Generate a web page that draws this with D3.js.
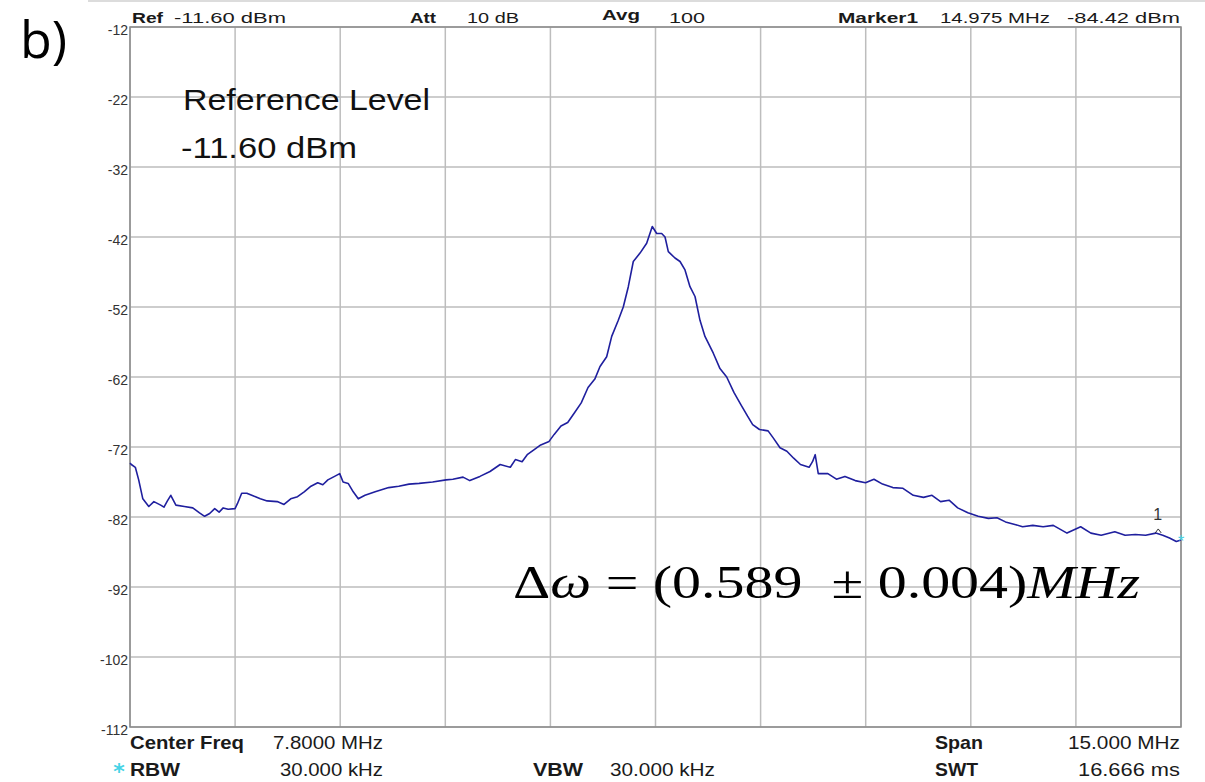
<!DOCTYPE html>
<html>
<head>
<meta charset="utf-8">
<script src="https://cdn.jsdelivr.net/npm/d3@7"></script>
<style>
  html, body { margin: 0; padding: 0; background: #fff; }
  svg { display: block; }
</style>
</head>
<body>
<svg id="chart" width="1205" height="782"></svg>
<script>
// ---------- data ----------
const freqMHz = [0.300,0.319,0.376,0.424,0.483,0.568,0.641,0.738,0.785,0.834,0.882,0.955,1.075,1.196,1.292,1.365,1.437,1.509,1.572,1.630,1.701,1.799,1.833,1.894,1.967,2.064,2.160,2.257,2.401,2.498,2.594,2.691,2.786,2.883,2.979,3.052,3.124,3.220,3.293,3.341,3.414,3.486,3.558,3.654,3.799,3.992,4.136,4.282,4.426,4.619,4.811,4.908,5.053,5.150,5.294,5.438,5.583,5.728,5.800,5.896,5.969,6.064,6.162,6.281,6.354,6.451,6.547,6.644,6.740,6.837,6.934,7.008,7.103,7.175,7.269,7.340,7.412,7.483,7.579,7.674,7.754,7.817,7.888,7.936,7.983,8.078,8.150,8.221,8.292,8.364,8.435,8.506,8.625,8.720,8.816,8.919,9.016,9.114,9.187,9.284,9.407,9.480,9.577,9.675,9.772,9.869,9.992,10.041,10.079,10.123,10.260,10.382,10.504,10.650,10.797,10.918,11.040,11.187,11.332,11.479,11.625,11.746,11.869,11.990,12.113,12.258,12.405,12.551,12.674,12.795,12.942,13.039,13.185,13.332,13.477,13.673,13.868,14.014,14.161,14.355,14.502,14.648,14.795,14.940,15.039,15.136,15.233,15.300];
const levelDbm = [-74.3,-74.5,-74.9,-76.7,-79.4,-80.5,-79.8,-80.3,-80.6,-79.7,-78.9,-80.3,-80.5,-80.7,-81.4,-81.9,-81.5,-80.8,-81.3,-80.7,-80.9,-80.8,-80.1,-78.6,-78.6,-79.0,-79.4,-79.7,-79.8,-80.2,-79.4,-79.1,-78.4,-77.6,-77.1,-77.4,-76.7,-76.2,-75.8,-77.0,-77.2,-78.4,-79.4,-78.9,-78.4,-77.8,-77.6,-77.3,-77.2,-77.0,-76.7,-76.6,-76.3,-76.8,-76.2,-75.5,-74.5,-74.9,-73.8,-74.1,-73.1,-72.4,-71.7,-71.2,-70.2,-69.0,-68.5,-67.1,-65.7,-63.5,-62.3,-60.5,-59.1,-56.2,-53.9,-52.0,-49.1,-45.5,-44.3,-42.9,-40.5,-41.5,-41.5,-42.0,-44.1,-45.0,-45.5,-46.7,-49.1,-50.5,-53.9,-56.2,-58.6,-60.8,-62.0,-64.2,-65.9,-67.6,-68.8,-69.5,-69.7,-70.7,-72.1,-72.6,-73.6,-74.5,-74.9,-74.1,-73.1,-75.8,-75.8,-76.6,-76.2,-76.8,-77.1,-76.6,-77.3,-77.8,-77.9,-78.9,-79.2,-78.9,-79.8,-79.6,-80.7,-81.4,-81.9,-82.2,-82.1,-82.7,-83.1,-83.4,-83.2,-83.4,-83.2,-84.3,-83.4,-84.3,-84.6,-84.1,-84.6,-84.5,-84.6,-84.3,-84.6,-85.0,-85.5,-85.3];
const yTicks = [-12,-22,-32,-42,-52,-62,-72,-82,-92,-102,-112];
const xGridMHz = [0.3,1.8,3.3,4.8,6.3,7.8,9.3,10.8,12.3,13.8,15.3];
const markerFreq = 14.975;
const markerLevel = -84.42;

// ---------- setup ----------
const svg = d3.select("#chart");
const x = d3.scaleLinear().domain([0.3, 15.3]).range([130, 1181]);
const y = d3.scaleLinear().domain([-112, -12]).range([727, 27]);
const SANS = "'Liberation Sans', Arial, sans-serif";

// faint top edge line
svg.append("line").attr("x1", 88).attr("x2", 1205).attr("y1", 1).attr("y2", 1)
  .attr("stroke", "#d0d0d0").attr("stroke-width", 1.5);

// grid
svg.append("g").selectAll("line").data(xGridMHz).join("line")
  .attr("x1", d => x(d)).attr("x2", d => x(d)).attr("y1", y(-12)).attr("y2", y(-112))
  .attr("stroke", "#bdbdbd").attr("stroke-width", 1.5);
svg.append("g").selectAll("line").data(yTicks).join("line")
  .attr("x1", x(0.3)).attr("x2", x(15.3)).attr("y1", d => y(d)).attr("y2", d => y(d))
  .attr("stroke", "#bdbdbd").attr("stroke-width", 1.5);
// frame
svg.append("rect").attr("x", x(0.3)).attr("y", y(-12))
  .attr("width", x(15.3) - x(0.3)).attr("height", y(-112) - y(-12))
  .attr("fill", "none").attr("stroke", "#8a8a8a").attr("stroke-width", 1.5);

// y axis labels
const yAxis = d3.axisLeft(y).tickValues(yTicks).tickSize(0).tickPadding(2).tickFormat(d => d);
const ya = svg.append("g").attr("transform", `translate(${x(0.3)},0)`).call(yAxis);
ya.select(".domain").remove();
ya.selectAll("text").attr("font-family", SANS).attr("font-size", 14).attr("fill", "#333").attr("dy", "0.5em");

// trace
const pts = freqMHz.map((f, i) => [f, levelDbm[i]]);
svg.append("path").datum(pts)
  .attr("d", d3.line().x(d => x(d[0])).y(d => y(d[1])))
  .attr("fill", "none").attr("stroke", "#1f1f9e").attr("stroke-width", 1.6)
  .attr("stroke-linejoin", "round");

// marker
const mx = x(markerFreq), my = y(markerLevel);
svg.append("path").attr("d", `M${mx - 3},${my - 1} L${mx},${my - 5} L${mx + 3},${my - 1}`)
  .attr("fill", "none").attr("stroke", "#333").attr("stroke-width", 1);
svg.append("text").attr("x", mx - 5).attr("y", my - 14).attr("font-family", SANS)
  .attr("font-size", 16).attr("fill", "#333").text("1");
// cyan end star
svg.append("text").attr("x", x(15.3)).attr("y", y(-85.3) + 7).attr("text-anchor", "middle")
  .attr("font-family", SANS).attr("font-size", 16).attr("fill", "#46d3e6").text("*");

// ---------- text helper ----------
function label(t, x0, x1, base, size, bold, color) {
  svg.append("text").attr("x", x0).attr("y", base)
    .attr("font-family", SANS).attr("font-size", size)
    .attr("font-weight", bold ? "bold" : "normal")
    .attr("fill", color || "#1a1a1a")
    .attr("textLength", x1 - x0).attr("lengthAdjust", "spacingAndGlyphs")
    .text(t);
}
// header row
label("Ref", 132, 163, 23, 15, true);
label("-11.60 dBm", 174, 286, 23, 15, false);
label("Att", 410, 436, 23, 15, true);
label("10 dB", 467, 519, 23, 15, false);
label("Avg", 602, 640, 20, 15, true);
label("100", 669, 705, 23, 15, false);
label("Marker1", 838, 918, 23, 15, true);
label("14.975 MHz", 940, 1050, 23, 15, false);
label("-84.42 dBm", 1067, 1180, 23, 15, false);
// footer rows
label("Center Freq", 130, 244, 749, 19, true);
label("7.8000 MHz", 273, 383, 749, 19, false);
label("Span", 935, 983, 749, 19, true);
label("15.000 MHz", 1068, 1180, 749, 19, false);
label("RBW", 130, 180, 776, 19, true);
label("30.000 kHz", 280, 383, 776, 19, false);
label("VBW", 533, 583, 776, 19, true);
label("30.000 kHz", 610, 715, 776, 19, false);
label("SWT", 935, 978, 776, 19, true);
label("16.666 ms", 1078, 1180, 776, 19, false);
svg.append("text").attr("x", 119).attr("y", 771).attr("text-anchor", "middle")
  .attr("dominant-baseline", "central")
  .attr("font-family", "'DejaVu Sans', sans-serif").attr("font-size", 22).attr("font-weight", "bold")
  .attr("fill", "#46d3e6").text("*");

// annotations
label("Reference Level", 183, 430, 110, 29, false, "#111");
label("-11.60 dBm", 181, 357, 158, 29, false, "#111");
svg.append("text").attr("x", 20).attr("y", 58).attr("font-family", "'Open Sans', 'Liberation Sans', sans-serif")
  .attr("font-size", 52).attr("fill", "#000").text("b)");

// equation
const eq = svg.append("text").attr("x", 513).attr("y", 598)
  .attr("font-family", "'Liberation Serif', 'DejaVu Serif', serif").attr("font-size", 46).attr("fill", "#000")
  .attr("textLength", 1140 - 513).attr("lengthAdjust", "spacingAndGlyphs");
eq.append("tspan").text("Δ");
eq.append("tspan").attr("font-style", "italic").text("ω");
eq.append("tspan").text(" = (0.589 \u00A0± 0.004)");
eq.append("tspan").attr("font-style", "italic").text("MHz");
</script>
</body>
</html>
